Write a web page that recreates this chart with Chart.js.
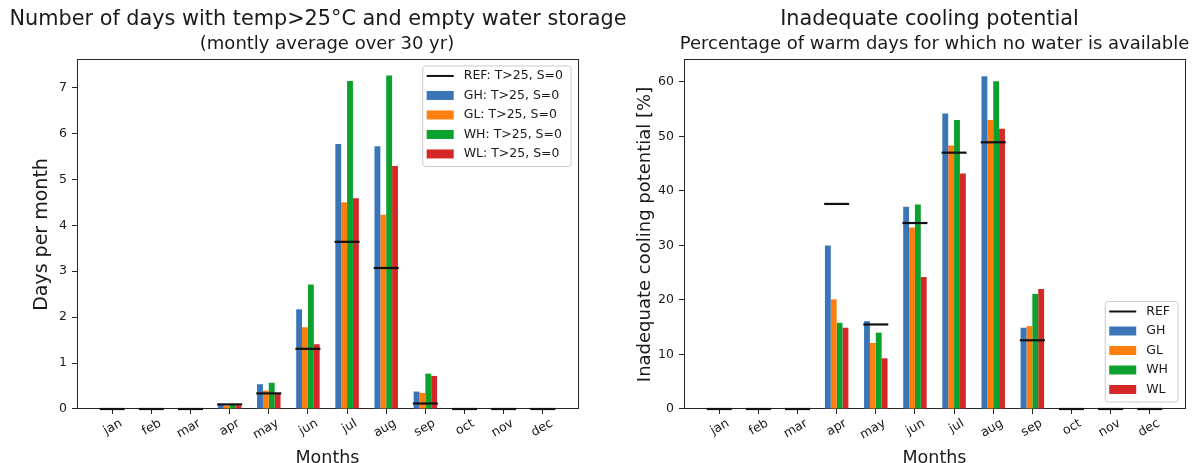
<!DOCTYPE html>
<html>
<head>
<meta charset="utf-8">
<script src="https://cdn.jsdelivr.net/npm/chart.js@4.4.1/dist/chart.umd.min.js"></script>
<style>
  html, body { margin: 0; padding: 0; background: #fff; overflow: hidden; width: 1195px; height: 463px; }
  .panel { position: absolute; top: 0; }
  #leftPanel { left: 0; }
  #rightPanel { left: 630px; }
</style>
</head>
<body>
<div class="panel" id="leftPanel"><canvas id="daysChart" width="654" height="470"></canvas></div>
<div class="panel" id="rightPanel"><canvas id="coolingChart" width="609" height="470"></canvas></div>
<script>
// Month categories shared by both panels
const months = ['jan', 'feb', 'mar', 'apr', 'may', 'jun', 'jul', 'aug', 'sep', 'oct', 'nov', 'dec'];
const scenarioColors = ['#3a76b7', '#ff7f0e', '#0ca12c', '#d62728'];

// Days per month with T>25 and empty storage (30-yr monthly average)
const refDays = [0, 0, 0, 0.10, 0.34, 1.31, 3.64, 3.07, 0.12, 0, 0, 0];
const ghDays  = [0, 0, 0, 0.10, 0.54, 2.17, 5.77, 5.72, 0.38, 0, 0, 0];
const glDays  = [0, 0, 0, 0.07, 0.40, 1.78, 4.50, 4.23, 0.35, 0, 0, 0];
const whDays  = [0, 0, 0, 0.09, 0.57, 2.71, 7.14, 7.26, 0.77, 0, 0, 0];
const wlDays  = [0, 0, 0, 0.08, 0.33, 1.41, 4.59, 5.29, 0.72, 0, 0, 0];
const dayTicks = [0, 1, 2, 3, 4, 5, 6, 7];
const dayLegend = ['REF: T>25, S=0', 'GH: T>25, S=0', 'GL: T>25, S=0', 'WH: T>25, S=0', 'WL: T>25, S=0'];

// Share of warm days without available water [%]
const refCooling = [0, 0, 0, 37.6, 15.5, 34.1, 47.0, 48.9, 12.6, 0, 0, 0];
const ghCooling  = [0, 0, 0, 30.0, 16.1, 37.1, 54.2, 61.0, 14.9, 0, 0, 0];
const glCooling  = [0, 0, 0, 20.1, 12.1, 33.3, 48.3, 53.0, 15.2, 0, 0, 0];
const whCooling  = [0, 0, 0, 15.8, 14.0, 37.5, 53.0, 60.1, 21.1, 0, 0, 0];
const wlCooling  = [0, 0, 0, 14.9,  9.3, 24.2, 43.2, 51.4, 22.0, 0, 0, 0];
const coolingTicks = [0, 10, 20, 30, 40, 50, 60];
const coolingLegend = ['REF', 'GH', 'GL', 'WH', 'WL'];

const FONT = 'DejaVu Sans';
const INK = '#1a1a1a';
const AXIS = '#262626';
Chart.defaults.font.family = FONT;
Chart.defaults.color = INK;

// Nudges the main title sideways after layout
const titleNudge = {
  id: 'titleNudge',
  afterLayout(chart, args, o) {
    const t = chart.titleBlock;
    if (t && o.dx) { t.left += o.dx; t.right += o.dx; }
  }
};

// Framed legend drawn inside the plot area (top-right or bottom-right)
const boxLegend = {
  id: 'boxLegend',
  afterDraw(chart, args, o) {
    const { ctx, chartArea: a } = chart;
    ctx.save();
    ctx.font = '12.5px "' + FONT + '"';
    const items = chart.data.datasets.map(ds => ({
      label: ds.label,
      line: ds.type === 'line',
      color: ds.type === 'line' ? ds.pointBorderColor : ds.backgroundColor
    }));
    const textW = Math.max(...items.map(it => ctx.measureText(it.label).width));
    const w = 40 + textW + 9;
    const h = 10 + (items.length - 1) * 19.5 + 12.5;
    const x = a.right - 7 - w;
    const y = o.corner === 'top' ? a.top + 6 : a.bottom - 7 - h;
    const r = 3;
    ctx.beginPath();
    ctx.moveTo(x + r, y);
    ctx.lineTo(x + w - r, y);
    ctx.arcTo(x + w, y, x + w, y + r, r);
    ctx.lineTo(x + w, y + h - r);
    ctx.arcTo(x + w, y + h, x + w - r, y + h, r);
    ctx.lineTo(x + r, y + h);
    ctx.arcTo(x, y + h, x, y + h - r, r);
    ctx.lineTo(x, y + r);
    ctx.arcTo(x, y, x + r, y, r);
    ctx.closePath();
    ctx.fillStyle = 'rgba(255,255,255,0.8)';
    ctx.fill();
    ctx.strokeStyle = '#cccccc';
    ctx.lineWidth = 1;
    ctx.stroke();
    items.forEach((it, i) => {
      const cy = y + 10 + i * 19.5;
      if (it.line) {
        ctx.beginPath();
        ctx.strokeStyle = it.color;
        ctx.lineWidth = 2;
        ctx.moveTo(x + 4, cy);
        ctx.lineTo(x + 31, cy);
        ctx.stroke();
      } else {
        ctx.fillStyle = it.color;
        ctx.fillRect(x + 4, cy - 4.5, 27, 9);
      }
      ctx.fillStyle = INK;
      ctx.textBaseline = 'middle';
      ctx.textAlign = 'left';
      ctx.fillText(it.label, x + 41, cy);
    });
    ctx.restore();
  }
};

function buildPanel(canvasId, p) {
  const datasets = [{
    type: 'line',
    label: p.legend[0],
    data: p.ref.map((v, i) => ({ x: i, y: v })),
    showLine: false,
    pointStyle: 'line',
    pointRadius: 12.5,
    pointBorderWidth: 2.2,
    pointBorderColor: '#111111',
    pointBackgroundColor: '#111111',
    borderColor: '#111111',
    clip: false,
    xAxisID: 'x', yAxisID: 'y'
  }].concat(p.series.map((vals, k) => ({
    type: 'bar',
    label: p.legend[k + 1],
    data: vals.map((v, i) => ({ x: i, y: v })),
    backgroundColor: scenarioColors[k],
    borderWidth: 0,
    categoryPercentage: 0.6,
    barPercentage: 1.0,
    xAxisID: 'x', yAxisID: 'y'
  })));

  const tickFont = { family: FONT, size: 12.5 };
  const tickMarks = { display: true, drawOnChartArea: false, drawTicks: true, tickLength: 5, color: AXIS, lineWidth: 1, offset: false };
  const spine = { display: true, color: AXIS, width: 1 };

  return new Chart(document.getElementById(canvasId), {
    type: 'bar',
    data: { datasets },
    plugins: [titleNudge, boxLegend],
    options: {
      responsive: false,
      animation: false,
      events: [],
      layout: { padding: 0, autoPadding: false },
      scales: {
        x: {
          type: 'linear', axis: 'x', position: 'bottom',
          min: -0.9, max: 11.9, offset: false,
          afterBuildTicks: s => { s.ticks = months.map((m, i) => ({ value: i })); },
          afterFit: s => { s.height = 61; },
          ticks: {
            autoSkip: false, minRotation: 30, maxRotation: 30,
            padding: 2, labelOffset: 9, color: INK, font: tickFont,
            callback: v => months[v]
          },
          grid: tickMarks,
          border: spine,
          title: { display: true, text: 'Months', color: INK, font: { family: FONT, size: 17.5 }, padding: { top: 0, bottom: 1.5 } }
        },
        y: {
          type: 'linear', axis: 'y', position: 'left',
          min: 0, max: p.yMax,
          afterBuildTicks: s => { s.ticks = p.yTicks.map(v => ({ value: v })); },
          afterFit: s => { s.width = p.yAxisWidth; },
          ticks: { padding: 5, color: INK, font: tickFont, callback: v => String(v) },
          grid: tickMarks,
          border: spine,
          title: { display: true, text: p.yTitle, color: INK, font: { family: FONT, size: p.yTitleSize }, padding: { top: p.yTitlePad, bottom: 0 } }
        },
        xTop: {
          type: 'linear', axis: 'x', position: 'top',
          afterFit: s => { s.height = 4.7; },
          ticks: { display: false },
          grid: { display: false, drawTicks: false },
          border: spine
        },
        yRight: {
          type: 'linear', axis: 'y', position: 'right',
          afterFit: s => { s.width = p.rightGap; },
          ticks: { display: false },
          grid: { display: false, drawTicks: false },
          border: spine
        }
      },
      plugins: {
        legend: { display: false },
        tooltip: { enabled: false },
        title: { display: true, text: p.title, color: INK, font: { family: FONT, size: 20.8, weight: 'normal' }, padding: { top: 7, bottom: 0 } },
        subtitle: { display: true, text: p.subtitle, color: INK, font: { family: FONT, size: 18, weight: 'normal' }, padding: { top: 1.7, bottom: 0 } },
        titleNudge: { dx: p.titleDx },
        boxLegend: { corner: p.legendCorner }
      }
    }
  });
}

buildPanel('daysChart', {
  title: 'Number of days with temp>25°C and empty water storage',
  subtitle: '(montly average over 30 yr)',
  yTitle: 'Days per month',
  ref: refDays,
  series: [ghDays, glDays, whDays, wlDays],
  legend: dayLegend,
  yTicks: dayTicks,
  yMax: 7.6,
  yAxisWidth: 77,
  yTitlePad: 30.6,
  yTitleSize: 19,
  rightGap: 76,
  titleDx: -9,
  legendCorner: 'top'
});

buildPanel('coolingChart', {
  title: 'Inadequate cooling potential',
  subtitle: 'Percentage of warm days for which no water is available',
  yTitle: 'Inadequate cooling potential [%]',
  ref: refCooling,
  series: [ghCooling, glCooling, whCooling, wlCooling],
  legend: coolingLegend,
  yTicks: coolingTicks,
  yMax: 64,
  yAxisWidth: 54,
  yTitlePad: 4.2,
  yTitleSize: 18,
  rightGap: 54,
  titleDx: -5,
  legendCorner: 'bottom'
});
</script>
</body>
</html>
